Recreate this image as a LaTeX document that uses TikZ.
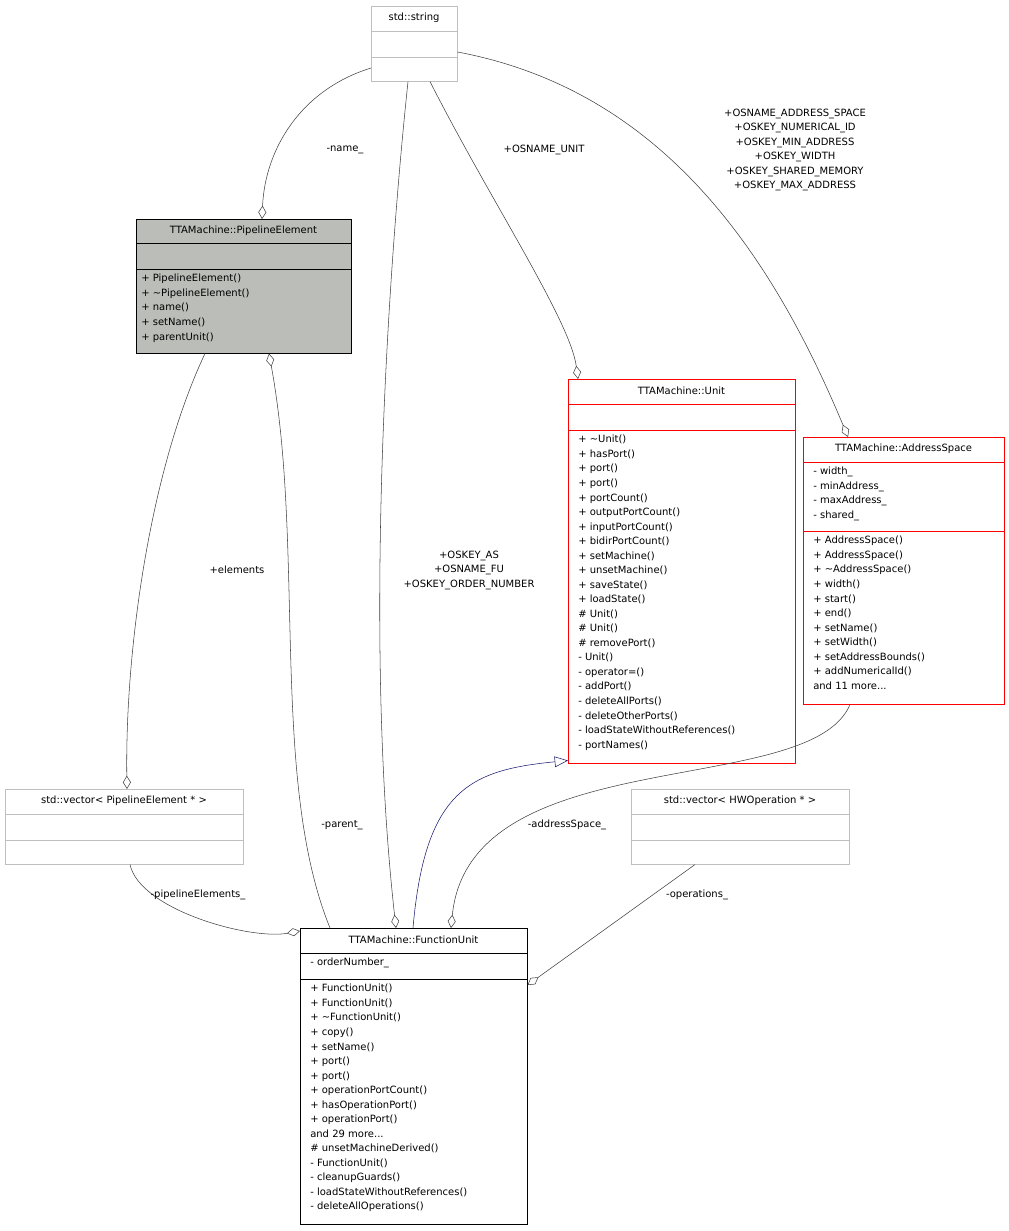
\documentclass[tikz,border=0pt]{standalone}
\usepackage{fontspec}
\setmainfont{DejaVu Sans}
\usetikzlibrary{arrows.meta,calc}
\definecolor{edgegray}{HTML}{404040}
\definecolor{boxgray}{HTML}{BFBFBF}
\definecolor{pefill}{HTML}{BBBDB8}
\definecolor{inhblue}{HTML}{191970}
\tikzset{
  box/.style={draw=black,fill=white,inner sep=0pt,anchor=north west},
  greybox/.style={box,draw=boxgray},
  redbox/.style={box,draw=red},
  pebox/.style={box,fill=pefill},
  members/.style={anchor=north west,align=left,inner sep=0pt},
  title/.style={inner sep=0pt},
  agg/.style={edgegray,-{Diamond[open,length=10pt,width=6pt]}},
  inh/.style={inhblue,-{Triangle[open,length=10pt,width=8pt]}},
  lbl/.style={align=center,inner sep=0pt}
}
\begin{document}
\begin{tikzpicture}[x=0.75pt,y=-0.75pt,font=\fontsize{7.5}{10.9}\selectfont]
\useasboundingbox[fill=white] (0,0) rectangle (1009,1231);
% std::string
\node[greybox,minimum width=64.5pt,minimum height=56.25pt] (str) at (371,6) {};
\draw[boxgray] (371,31)--(457,31) (371,57)--(457,57);
\node[title] at (414,18) {std::string};
% PipelineElement
\node[pebox,minimum width=161.25pt,minimum height=100.5pt] (pe) at (136,219) {};
\draw (136,243)--(351,243) (136,269)--(351,269);
\node[title] at (243.5,231) {TTAMachine::PipelineElement};
\node[members] at (141,274) {+ PipelineElement()\\+ \textasciitilde PipelineElement()\\+ name()\\+ setName()\\+ parentUnit()};
% Unit
\node[redbox,minimum width=170.25pt,minimum height=288pt] (unit) at (568,379) {};
\draw[red] (568,404)--(795,404) (568,430)--(795,430);
\node[title] at (681.5,391) {TTAMachine::Unit};
\node[members] at (578,435) {+ \textasciitilde Unit()\\+ hasPort()\\+ port()\\+ port()\\+ portCount()\\+ outputPortCount()\\+ inputPortCount()\\+ bidirPortCount()\\+ setMachine()\\+ unsetMachine()\\+ saveState()\\+ loadState()\\\# Unit()\\\# Unit()\\\# removePort()\\- Unit()\\- operator=()\\- addPort()\\- deleteAllPorts()\\- deleteOtherPorts()\\- loadStateWithoutReferences()\\- portNames()};
% AddressSpace
\node[redbox,minimum width=150.75pt,minimum height=200.25pt] (as) at (803,437) {};
\draw[red] (803,462)--(1004,462) (803,531)--(1004,531);
\node[title] at (903.5,449) {TTAMachine::AddressSpace};
\node[members] at (813,467) {- width\_\\- minAddress\_\\- maxAddress\_\\- shared\_};
\node[members] at (813,536) {+ AddressSpace()\\+ AddressSpace()\\+ \textasciitilde AddressSpace()\\+ width()\\+ start()\\+ end()\\+ setName()\\+ setWidth()\\+ setAddressBounds()\\+ addNumericalId()\\and 11 more...};
% std::vector< PipelineElement * >
\node[greybox,minimum width=178.5pt,minimum height=56.25pt] (vpe) at (5,789) {};
\draw[boxgray] (5,814)--(243,814) (5,840)--(243,840);
\node[title] at (124,801) {std::vector< PipelineElement * >};
% std::vector< HWOperation * >
\node[greybox,minimum width=163.5pt,minimum height=56.25pt] (vhw) at (631,789) {};
\draw[boxgray] (631,814)--(849,814) (631,840)--(849,840);
\node[title] at (740,801) {std::vector< HWOperation * >};
% FunctionUnit
\node[box,minimum width=170.25pt,minimum height=222pt] (fu) at (300,928) {};
\draw (300,953)--(527,953) (300,979)--(527,979);
\node[title] at (413.5,940) {TTAMachine::FunctionUnit};
\node[members] at (310,958) {- orderNumber\_};
\node[members] at (310,984) {+ FunctionUnit()\\+ FunctionUnit()\\+ \textasciitilde FunctionUnit()\\+ copy()\\+ setName()\\+ port()\\+ port()\\+ operationPortCount()\\+ hasOperationPort()\\+ operationPort()\\and 29 more...\\\# unsetMachineDerived()\\- FunctionUnit()\\- cleanupGuards()\\- loadStateWithoutReferences()\\- deleteAllOperations()};
% connectors
\draw[agg] ($(str.north west)+(0,62)$) .. controls (300,90) and (265,150) .. ($(pe.north west)+(126,0)$);
\node[lbl] at (345,150) {-name\_};
\draw[agg] ($(str.south west)+(37,0)$) .. controls (385,300) and (365,650) .. ($(fu.north west)+(96,0)$);
\node[lbl] at (469,570) {+OSKEY\_AS\\+OSNAME\_FU\\+OSKEY\_ORDER\_NUMBER};
\draw[agg] ($(str.south west)+(59,0)$) .. controls (490,200) and (570,320) .. ($(unit.north west)+(10,0)$);
\node[lbl] at (544,150) {+OSNAME\_UNIT};
\draw[agg] ($(str.north east)+(0,46)$) .. controls (660,90) and (770,250) .. ($(as.north west)+(45,0)$);
\node[lbl] at (795,150) {+OSNAME\_ADDRESS\_SPACE\\+OSKEY\_NUMERICAL\_ID\\+OSKEY\_MIN\_ADDRESS\\+OSKEY\_WIDTH\\+OSKEY\_SHARED\_MEMORY\\+OSKEY\_MAX\_ADDRESS};
\draw[agg] ($(pe.south west)+(69,0)$) .. controls (150,470) and (125,650) .. ($(vpe.north west)+(122,0)$);
\node[lbl] at (237,570) {+elements};
\draw[agg] ($(fu.north west)+(30,0)$) .. controls (270,780) and (305,550) .. ($(pe.south west)+(133,0)$);
\node[lbl] at (342,825) {-parent\_};
\draw[inh] ($(fu.north west)+(113,0)$) .. controls (425,790) and (470,770) .. ($(unit.south west)+(0,-3)$);
\draw[agg] ($(as.south west)+(47,0)$) .. controls (810,800) and (470,740) .. ($(fu.north west)+(151,0)$);
\node[lbl] at (567,825) {-addressSpace\_};
\draw[agg] ($(vpe.south west)+(125,0)$) .. controls (140,910) and (250,940) .. ($(fu.north west)+(0,3)$);
\node[lbl] at (198,895) {-pipelineElements\_};
\draw[agg] ($(vhw.south west)+(64,0)$) -- ($(fu.north east)+(0,57)$);
\node[lbl] at (697,895) {-operations\_};
\end{tikzpicture}
\end{document}
